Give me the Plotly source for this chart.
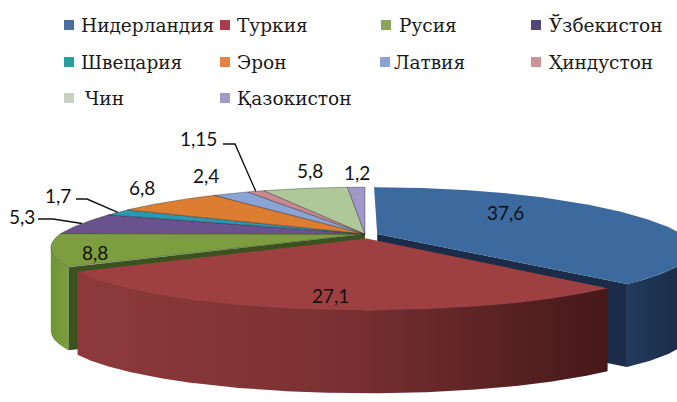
import numpy as np
import plotly.graph_objects as go

# ---- data -------------------------------------------------------------
countries = ["Нидерландия", "Туркия", "Русия", "Ўзбекистон", "Швецария",
             "Эрон", "Латвия", "Ҳиндустон", "Чин", "Қазокистон"]
shares = [37.6, 27.1, 8.8, 5.3, 1.7, 6.8, 2.4, 1.15, 5.8, 1.2]

# ---- styling ----------------------------------------------------------
top_colors = ["#3c6a9e", "#9e3f42", "#7d9e3e", "#6a528e", "#2b98b2",
              "#dc7d32", "#8aa4d6", "#c98891", "#afc899", "#a198c9"]
wall_scales = [
    [[0, "#223a5c"], [1, "#182a44"]],
    [[0, "rgb(142,58,60)"], [0.5, "rgb(122,48,50)"], [1, "rgb(70,24,26)"]],
    [[0, "rgb(112,148,54)"], [1, "rgb(124,158,62)"]],
    [[0, "#503c6e"], [1, "#503c6e"]],
    [[0, "#1f7589"], [1, "#1f7589"]],
    [[0, "#a85e24"], [1, "#a85e24"]],
    [[0, "#6a80a8"], [1, "#6a80a8"]],
    [[0, "#9c6870"], [1, "#9c6870"]],
    [[0, "#889c76"], [1, "#889c76"]],
    [[0, "#7d769c"], [1, "#7d769c"]],
]
face_colors = ["#1a2c48", "#5a2224", "#3a521e", "#3e2e58", "#186070",
               "#8a4c1c", "#56688c", "#80545a", "#6e7e60", "#645e80"]
legend_colors = ["#4a6ea0", "#aa3c4b", "#8ca55a", "#504678", "#28a0a0",
                 "#e68246", "#8ca0d2", "#c89696", "#c8d2c3", "#a09bc8"]
# ground-plane offsets and radii of the pulled-out slices
explode = {0: (0.04, 0.0), 1: (0.005, -0.08)}
radius = {1: 0.96}

# data-label centres (pixels) and leader-line starts
label_pos = [(505, 212), (330, 295), (95, 252), (22, 216), (58, 195),
             (142, 187), (206, 175), (198, 138), (310, 170), (357, 172)]
leader_start = {3: [(38, 219), (53, 219)],
                4: [(76, 199), (87, 199)],
                7: [(223, 144), (235, 144)]}

# legend grid (square centre x, text x, y)
legend_cells = [(69, 79, 25), (225, 235, 25), (386, 397, 25), (536, 547, 25),
                (69, 79, 62), (225, 235, 62), (385, 392, 62), (536, 547, 62),
                (69, 83, 98), (225, 235, 98)]
SERIF = "DejaVu Serif"

W, Hpx = 677, 402
CX, CY = 365.0, 234.0
RX = 305.0
DEPTH = 83.0


def project(X, Y):
    X = np.asarray(X, float)
    Y = np.asarray(Y, float)
    a = np.where(Y >= 0, 0.345, 0.24)
    b = np.where(Y >= 0, 63.0, 55.0)
    k = 1 + a * Y
    return CX + RX * X / k, CY - b * Y / k


total = sum(shares)
ends = np.cumsum(shares) / total * 360.0
starts = np.concatenate([[0.0], ends[:-1]])
n = len(shares)
offs = [explode.get(i, (0.0, 0.0)) for i in range(n)]


def rim(i, theta_deg):
    t = np.radians(theta_deg)
    r = radius.get(i, 1.0)
    return project(r * np.sin(t) + offs[i][0], r * np.cos(t) + offs[i][1])


fig = go.Figure()


def poly(xs, ys, fillcolor=None, scale=None, line_w=0.0, line_c="rgba(0,0,0,0)"):
    xs = list(xs) + [xs[0]]
    ys = list(ys) + [ys[0]]
    kw = dict(x=xs, y=ys, mode="lines", fill="toself",
              line=dict(width=line_w, color=line_c),
              hoverinfo="skip", showlegend=False)
    if scale is not None:
        kw["fillgradient"] = dict(type="horizontal", colorscale=scale)
    else:
        kw["fillcolor"] = fillcolor
    fig.add_trace(go.Scatter(**kw))


def arc(i):
    return np.linspace(starts[i], ends[i], max(3, int((ends[i] - starts[i]) * 4)))


def walls(i):
    sx, sy = rim(i, arc(i))
    vis = np.diff(sx) < 0
    run, runs = [], []
    for j, v in enumerate(vis):
        if v:
            if not run:
                run = [j]
            run.append(j + 1)
        elif run:
            runs.append(run)
            run = []
    if run:
        runs.append(run)
    for r in runs:
        xs = list(sx[r]) + list(sx[r][::-1])
        ys = list(sy[r]) + list(sy[r][::-1] + DEPTH)
        poly(xs, ys, scale=wall_scales[i])
    # cut faces exposed by a pulled-out neighbour
    cx0, cy0 = project(offs[i][0], offs[i][1])
    prev_e = (i - 1) % n in explode
    next_e = (i + 1) % n in explode
    me = i in explode
    for ang, ok in ((starts[i], np.sin(np.radians(starts[i])) < -1e-6 and (me or prev_e)),
                    (ends[i], np.sin(np.radians(ends[i])) > 1e-6 and (me or next_e))):
        if ok:
            rx, ry = rim(i, ang)
            poly([cx0, rx, rx, cx0], [cy0, ry, ry + DEPTH, cy0 + DEPTH],
                 fillcolor=face_colors[i])


def top(i, outline):
    sx, sy = rim(i, arc(i))
    cx0, cy0 = project(offs[i][0], offs[i][1])
    xs = [float(cx0)] + list(sx)
    ys = [float(cy0)] + list(sy)
    if outline:
        poly(xs, ys, fillcolor=top_colors[i], line_w=0.7, line_c="rgba(35,35,35,0.55)")
    else:
        poly(xs, ys, fillcolor=top_colors[i])


# body of the pie first, then pulled-out slices from back to front
body = [i for i in range(n) if i not in explode]
for i in body:
    walls(i)
for i in body:
    top(i, True)
mids = {i: np.cos(np.radians((starts[i] + ends[i]) / 2)) for i in explode}
for i in sorted(explode, key=lambda k: -mids[k]):
    walls(i)
    top(i, False)

# leader lines from labels to slice rims
for i, pts in leader_start.items():
    mx, my = rim(i, (starts[i] + ends[i]) / 2)
    xs = [p[0] for p in pts] + [float(mx)]
    ys = [p[1] for p in pts] + [float(my)]
    fig.add_trace(go.Scatter(x=xs, y=ys, mode="lines",
                             line=dict(color="#111111", width=1.4),
                             hoverinfo="skip", showlegend=False))

annotations = []
for i, v in enumerate(shares):
    x, y = label_pos[i]
    annotations.append(dict(x=x, y=y, xref="x", yref="y", showarrow=False,
                            text=f"{v:g}".replace(".", ","),
                            font=dict(family="Lato", size=19, color="#111111"),
                            xanchor="center", yanchor="middle"))

shapes = []
for i, name in enumerate(countries):
    sqx, tx, y = legend_cells[i]
    shapes.append(dict(type="rect", xref="x", yref="y",
                       x0=sqx - 5, x1=sqx + 5, y0=y - 5, y1=y + 5,
                       fillcolor=legend_colors[i], line=dict(width=0)))
    annotations.append(dict(x=tx, y=y, xref="x", yref="y", showarrow=False,
                            text=name, xanchor="left", yanchor="middle",
                            font=dict(family=SERIF, size=18.5, color="#1a1a1a")))

fig.update_layout(
    width=W, height=Hpx,
    margin=dict(l=0, r=0, t=0, b=0),
    paper_bgcolor="white", plot_bgcolor="white",
    xaxis=dict(range=[0, W], visible=False, fixedrange=True),
    yaxis=dict(range=[Hpx, 0], visible=False, fixedrange=True),
    annotations=annotations, shapes=shapes,
    showlegend=False,
)

fig.write_html("out.html")
